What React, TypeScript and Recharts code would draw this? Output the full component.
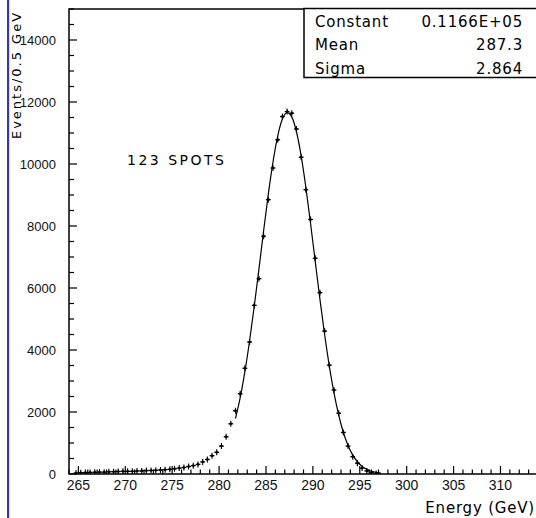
import { ComposedChart, Line, XAxis, YAxis, ReferenceArea } from 'recharts'

// bin centres (0.5 GeV bins)
const ENERGY = [
  264.75, 265.25, 265.75, 266.25, 266.75, 267.25, 267.75, 268.25, 268.75, 269.25,
  269.75, 270.25, 270.75, 271.25, 271.75, 272.25, 272.75, 273.25, 273.75, 274.25,
  274.75, 275.25, 275.75, 276.25, 276.75, 277.25, 277.75, 278.25, 278.75, 279.25,
  279.75, 280.25, 280.75, 281.25, 281.75, 282.25, 282.75, 283.25, 283.75, 284.25,
  284.75, 285.25, 285.75, 286.25, 286.75, 287.25, 287.75, 288.25, 288.75, 289.25,
  289.75, 290.25, 290.75, 291.25, 291.75, 292.25, 292.75, 293.25, 293.75, 294.25,
  294.75, 295.25, 295.75, 296.25, 296.75, 297.25,
]

const EVENTS = [
  30, 40, 45, 50, 55, 60, 60, 70, 75, 80,
  85, 85, 90, 95, 100, 110, 115, 120, 130, 140,
  150, 170, 190, 210, 240, 270, 310, 390, 470, 590,
  700, 900, 1200, 1620, 2040, 2590, 3410, 4260, 5440, 6300,
  7670, 8850, 9870, 10780, 11530, 11690, 11640, 11130, 10220, 9170,
  8210, 6960, 5850, 4610, 3510, 2710, 1960, 1340, 900, 560,
  350, 190, 100, 50, 20, null,
]

// gaussian fit curve
const FIT_ENERGY = [
  281.75, 282.25, 282.75, 283.25, 283.75, 284.25, 284.75, 285.25, 285.75, 286.25,
  286.75, 287.25, 287.75, 288.25, 288.75, 289.25, 289.75, 290.25, 290.75, 291.25,
  291.75, 292.25, 292.75, 293.25, 293.75, 294.25, 294.75, 295.25, 295.75, 296.25,
  296.75, 297.25,
]
const FIT = [
  1790, 2460, 3300, 4290, 5410, 6610, 7850, 9030, 10070, 10900,
  11450, 11660, 11520, 11040, 10260, 9250, 8090, 6860, 5640, 4500,
  3490, 2620, 1910, 1340, 920, 610, 395, 247, 150, 88,
  50, 28,
]

const X_LABELS = [265, 270, 275, 280, 285, 290, 295, 300, 305, 310]
const Y_LABELS = [0, 2000, 4000, 6000, 8000, 10000, 12000, 14000]

const STATS = [
  { name: 'Constant', value: '0.1166E+05' },
  { name: 'Mean', value: '287.3' },
  { name: 'Sigma', value: '2.864' },
]

const X_MINOR = Array.from({ length: 51 }, (_, i) => 264 + i)
const Y_MINOR = Array.from({ length: 31 }, (_, i) => i * 500)

const data = ENERGY.map((e, i) => {
  const k = FIT_ENERGY.indexOf(e)
  return { e, events: EVENTS[i], fit: k >= 0 ? FIT[k] : null }
})

const FONT = '"DejaVu Sans", sans-serif'
const TICK_FONT = '"Liberation Sans", Arial, sans-serif'

function XTick({ x, y, payload }: any) {
  const v = payload.value
  const major = v % 5 === 0
  return (
    <g>
      <line x1={x} x2={x} y1={y} y2={y - (major ? 8 : 4.5)} stroke="#000" strokeWidth={1.2} />
      {X_LABELS.includes(v) && (
        <text x={x} y={y + 16} textAnchor="middle" fontSize={14} fontFamily={TICK_FONT} fill="#111">
          {v}
        </text>
      )}
    </g>
  )
}

function YTick({ x, y, payload }: any) {
  const v = payload.value
  const major = v % 2000 === 0
  return (
    <g>
      <line x1={x} x2={x + (major ? 8 : 5)} y1={y} y2={y} stroke="#000" strokeWidth={1.2} />
      {Y_LABELS.includes(v) && (
        <text x={x - 13} y={y + 4.5} textAnchor="end" fontSize={13} fontFamily={TICK_FONT} fill="#111">
          {v}
        </text>
      )}
    </g>
  )
}

function Cross(props: any) {
  const { cx, cy, index } = props
  if (cx == null || cy == null || Number.isNaN(cy)) return <g key={index} />
  return (
    <g key={index}>
      <line x1={cx - 2.4} x2={cx + 2.4} y1={cy} y2={cy} stroke="#000" strokeWidth={1.3} />
      <line x1={cx} x2={cx} y1={cy - 3} y2={cy + 3} stroke="#000" strokeWidth={1.1} />
      <circle cx={cx} cy={cy} r={1.3} fill="#000" />
    </g>
  )
}

export default function App() {
  return (
    <div
      style={{
        position: 'absolute',
        left: 0,
        top: 0,
        width: 536,
        height: 518,
        overflow: 'hidden',
        background: '#fff',
      }}
    >
      <ComposedChart
        width={545}
        height={518}
        data={data}
        margin={{ top: 9, right: 7, bottom: 0, left: 9 }}
      >
        <XAxis
          dataKey="e"
          type="number"
          domain={[264, 314]}
          ticks={X_MINOR}
          interval={0}
          allowDataOverflow
          axisLine={false}
          tickLine={false}
          tickSize={0}
          tickMargin={0}
          height={44}
          tick={<XTick />}
        />
        <YAxis
          type="number"
          domain={[0, 15000]}
          ticks={Y_MINOR}
          interval={0}
          allowDataOverflow
          axisLine={false}
          tickLine={false}
          tickSize={0}
          tickMargin={0}
          width={60}
          tick={<YTick />}
        />
        <ReferenceArea
          x1={264}
          x2={314}
          y1={0}
          y2={15000}
          fill="none"
          stroke="#000"
          strokeWidth={1.5}
          fillOpacity={0}
        />
        <Line
          dataKey="fit"
          type="monotone"
          stroke="#000"
          strokeWidth={1.2}
          dot={false}
          activeDot={false}
          isAnimationActive={false}
        />
        <Line
          dataKey="events"
          stroke="none"
          strokeWidth={0}
          dot={(p: any) => <Cross key={p.index} {...p} />}
          activeDot={false}
          isAnimationActive={false}
        />
      </ComposedChart>

      <svg
        width={536}
        height={518}
        style={{ position: 'absolute', left: 0, top: 0, pointerEvents: 'none' }}
      >
        <rect x={7} y={0} width={2.2} height={518} fill="#3838a8" />
        <text
          transform="translate(20.5 75) rotate(-90)"
          textAnchor="middle"
          fontSize={13}
          letterSpacing={2}
          fontFamily={FONT}
          fill="#000"
        >
          Events/0.5 GeV
        </text>
        <rect x={304} y={8.5} width={250} height={69} fill="#fff" stroke="#000" strokeWidth={1.5} />
        {STATS.map((s, i) => (
          <g key={s.name}>
            <text x={315} y={26.5 + i * 23.5} fontSize={15} letterSpacing={0.8} fontFamily={FONT} fill="#000">
              {s.name}
            </text>
            <text
              x={523}
              y={26.5 + i * 23.5}
              textAnchor="end"
              fontSize={15}
              letterSpacing={0.8}
              fontFamily={FONT}
              fill="#000"
            >
              {s.value}
            </text>
          </g>
        ))}
        <text x={127} y={165} fontSize={14} letterSpacing={2.5} fontFamily={FONT} fill="#000">
          123 SPOTS
        </text>
        <text x={535} y={513} textAnchor="end" fontSize={15} letterSpacing={0.8} fontFamily={FONT} fill="#000">
          Energy (GeV)
        </text>
      </svg>
    </div>
  )
}
